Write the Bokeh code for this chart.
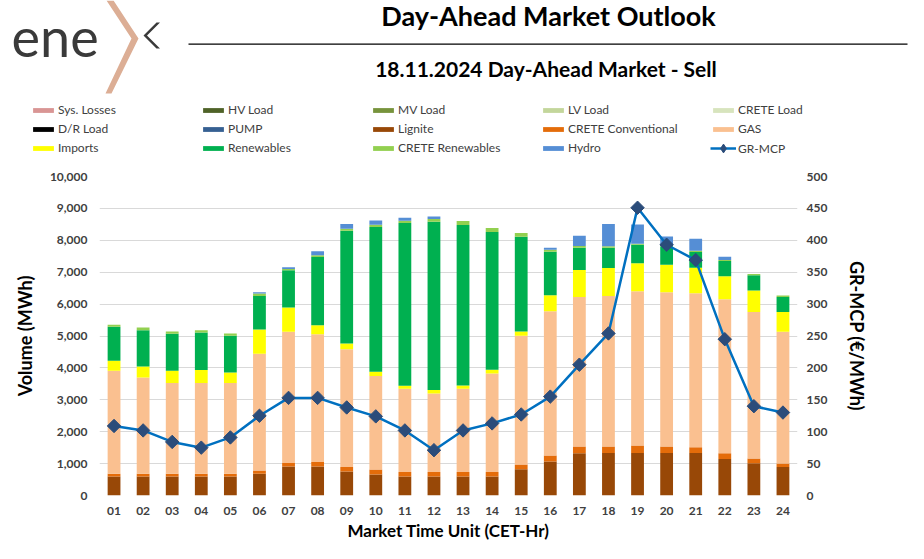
from bokeh.plotting import figure
from bokeh.models import (Range1d, LinearAxis, FactorRange, Legend, LegendItem, Label,
                          NumeralTickFormatter, FixedTicker, ColumnDataSource)
from bokeh.embed import file_html
from bokeh.resources import INLINE

# ---------------- data ----------------
hours = ["01", "02", "03", "04", "05", "06", "07", "08", "09", "10", "11", "12",
         "13", "14", "15", "16", "17", "18", "19", "20", "21", "22", "23", "24"]

sys_losses = [0, 0, 0, 0, 0, 0, 0, 0, 0, 0, 0, 0, 0, 0, 0, 0, 0, 0, 0, 0, 0, 0, 0, 0]
hv_load    = [0, 0, 0, 0, 0, 0, 0, 0, 0, 0, 0, 0, 0, 0, 0, 0, 0, 0, 0, 0, 0, 0, 0, 0]
mv_load    = [0, 0, 0, 0, 0, 0, 0, 0, 0, 0, 0, 0, 0, 0, 0, 0, 0, 0, 0, 0, 0, 0, 0, 0]
lv_load    = [0, 0, 0, 0, 0, 0, 0, 0, 0, 0, 0, 0, 0, 0, 0, 0, 0, 0, 0, 0, 0, 0, 0, 0]
crete_load = [0, 0, 0, 0, 0, 0, 0, 0, 0, 0, 0, 0, 0, 0, 0, 0, 0, 0, 0, 0, 0, 0, 0, 0]
dr_load    = [0, 0, 0, 0, 0, 0, 0, 0, 0, 0, 0, 0, 0, 0, 0, 0, 0, 0, 0, 0, 0, 0, 0, 0]
pump       = [0, 0, 0, 0, 0, 0, 0, 0, 0, 0, 0, 0, 0, 0, 0, 0, 0, 0, 0, 0, 0, 0, 0, 0]
lignite    = [594, 594, 594, 594, 594, 678, 907, 907, 751, 657, 594, 594,
              594, 594, 824, 1064, 1324, 1335, 1335, 1335, 1335, 1147, 1011, 897]
crete_conv = [84, 84, 84, 84, 84, 104, 115, 146, 146, 156, 146, 146,
              146, 146, 146, 187, 209, 198, 229, 198, 177, 177, 146, 104]
gas        = [3232, 3024, 2847, 2847, 2847, 3660, 4108, 4004, 3691, 2930, 2607, 2461,
              2607, 3087, 4035, 4526, 4692, 4723, 4838, 4838, 4828, 4828, 4599, 4129]
imports    = [313, 344, 385, 406, 333, 761, 762, 282, 177, 136, 94, 105,
              104, 115, 136, 500, 845, 876, 876, 866, 803, 720, 667, 626]
renewables = [1064, 1136, 1158, 1179, 1147, 1054, 1167, 2138, 3535, 4536, 5099, 5276,
              5027, 4317, 2972, 1366, 698, 636, 584, 573, 490, 480, 480, 469]
crete_ren  = [62, 84, 73, 72, 73, 73, 42, 52, 63, 73, 73, 83,
              125, 125, 114, 63, 53, 42, 32, 32, 42, 31, 42, 42]
hydro      = [0, 0, 0, 0, 0, 41, 52, 125, 146, 136, 94, 84,
              0, 0, 0, 62, 323, 699, 604, 281, 375, 104, 0, 0]
gr_mcp     = [109, 102, 84, 75, 91, 125, 153, 153, 138, 124, 102, 71,
              102, 113, 127, 155, 205, 254, 451, 393, 369, 245, 140, 130]

series_names = ["Sys. Losses", "HV Load", "MV Load", "LV Load", "CRETE Load",
                "D/R Load", "PUMP", "Lignite", "CRETE Conventional", "GAS",
                "Imports", "Renewables", "CRETE Renewables", "Hydro"]
series_values = [sys_losses, hv_load, mv_load, lv_load, crete_load, dr_load, pump,
                 lignite, crete_conv, gas, imports, renewables, crete_ren, hydro]
series_colors = ["#d99594", "#4f6228", "#77933c", "#c3d69b", "#d7e4bd",
                 "#000000", "#366092", "#984807", "#e46c0a", "#fac090",
                 "#ffff00", "#00b050", "#92d050", "#558ed5"]
mcp_name = "GR-MCP"
line_color = "#0070c0"
marker_color = "#2b4c7a"

vol_ticks = [0, 1000, 2000, 3000, 4000, 5000, 6000, 7000, 8000, 9000, 10000]
price_ticks = [0, 50, 100, 150, 200, 250, 300, 350, 400, 450, 500]

title_text = "Day-Ahead Market Outlook"
subtitle_text = "18.11.2024  Day-Ahead Market - Sell"

FONT = "Lato"
TXT = "#404040"
W, H_TOTAL, H_HEAD = 908, 543, 166

# ---------------- header (title, logo, legend) ----------------
head = figure(width=W, height=H_HEAD, x_range=Range1d(0, W), y_range=Range1d(H_HEAD, 0),
              output_backend="svg", toolbar_location=None, x_axis_type=None, y_axis_type=None,
              min_border=0, min_border_left=0, min_border_right=0, min_border_top=0,
              min_border_bottom=0)
head.outline_line_color = None
head.grid.visible = False

head.add_layout(Label(x=548, y=15, text=title_text, text_align="center", text_baseline="middle",
                      text_font=FONT, text_font_style="bold", text_font_size="27px",
                      text_color="#000000"))
head.add_layout(Label(x=548, y=68, text=subtitle_text, text_align="center",
                      text_baseline="middle", text_font=FONT, text_font_style="bold",
                      text_font_size="21px", text_color="#000000"))
head.line(x=[188, 907], y=[43.6, 43.6], line_color="#000000", line_width=1.3)

# logo
head.add_layout(Label(x=11, y=36, text="ene", text_align="left", text_baseline="alphabetic",
                      text_font=FONT, text_font_size="54px", text_color="#3a3a3a"))
head.patch(x=[106, 113, 138, 111, 105, 131], y=[0, 0, 38, 93, 93, 38],
           fill_color="#dcae95", line_color=None)
head.patch(x=[156, 159.5, 146.5, 159.5, 156, 143], y=[22, 22, 35, 48, 48, 35],
           fill_color="#3a3a3a", line_color=None)

# legend: sample glyphs (one point each, placed off-canvas) carry the series styles
OFF = -500
leg_items = []
for name, col in zip(series_names, series_colors):
    r = head.vbar(x=[OFF], top=[OFF], width=1, fill_color=col, line_color=None)
    leg_items.append(LegendItem(label=name, renderers=[r]))
lr = head.line(x=[OFF, OFF - 1], y=[OFF, OFF], line_color=line_color, line_width=2.5)
sr = head.scatter(x=[OFF], y=[OFF], marker="diamond", size=14,
                  fill_color=marker_color, line_color=marker_color)

leg_style = dict(padding=0, margin=0, spacing=0, glyph_width=26, label_standoff=2,
                 label_width=142, label_text_font=FONT, label_text_font_size="12px",
                 label_text_color=TXT, border_line_color=None, background_fill_alpha=0)
legend = Legend(items=leg_items, ncols=5, orientation="horizontal",
                location=(30, H_HEAD - 157.2), glyph_height=6, label_height=19, **leg_style)
head.add_layout(legend, "center")
legend2 = Legend(items=[LegendItem(label=mcp_name, renderers=[lr, sr])],
                 location=(710, H_HEAD - 159.3), glyph_height=22, label_height=22, **leg_style)
head.add_layout(legend2, "center")

# ---------------- main chart ----------------
keys = ["s%d" % i for i in range(len(series_names))]
data = {"hour": hours, "mcp": gr_mcp}
for k, v in zip(keys, series_values):
    data[k] = v
src = ColumnDataSource(data)

p = figure(width=W, height=H_TOTAL - H_HEAD, x_range=FactorRange(*hours),
           y_range=Range1d(0, 10000), output_backend="svg", toolbar_location=None,
           min_border_left=99, min_border_right=111, min_border_top=10, min_border_bottom=47)
p.outline_line_color = None
p.extra_y_ranges = {"price": Range1d(0, 500)}

p.vbar_stack(keys, x="hour", width=0.44, color=series_colors, line_color=None, source=src)
p.line(x="hour", y="mcp", y_range_name="price", line_color=line_color, line_width=2.5,
       source=src)
p.scatter(x="hour", y="mcp", y_range_name="price", marker="square", angle=0.7854,
          size=9.5, fill_color=marker_color, line_color=marker_color, source=src)

p.yaxis.ticker = FixedTicker(ticks=vol_ticks)
p.yaxis.formatter = NumeralTickFormatter(format="0,0")
p.yaxis.axis_label = "Volume (MWh)"
right = LinearAxis(y_range_name="price", ticker=FixedTicker(ticks=price_ticks),
                   axis_label="GR-MCP (€/MWh)")
p.add_layout(right, "right")
p.xaxis.axis_label = "Market Time Unit (CET-Hr)"

for ax in [p.xaxis[0], p.yaxis[0], right]:
    ax.axis_line_color = None
    ax.major_tick_line_color = None
    ax.minor_tick_line_color = None
    ax.major_tick_out = 0
    ax.major_tick_in = 0
    ax.minor_tick_out = 0
    ax.minor_tick_in = 0
    ax.major_label_text_font = FONT
    ax.major_label_text_font_style = "bold"
    ax.major_label_text_font_size = "12px"
    ax.major_label_text_color = TXT
    ax.axis_label_text_font = FONT
    ax.axis_label_text_font_style = "bold"
    ax.axis_label_text_font_size = "18px"
    ax.axis_label_text_color = "#000000"
p.yaxis[0].major_label_standoff = 12
p.yaxis[0].axis_label_standoff = 11
right.major_label_standoff = 9
right.axis_label_standoff = 16
p.xaxis[0].major_label_standoff = 11
p.xaxis[0].axis_label_standoff = 2
p.xaxis[0].axis_label_text_font_size = "17px"

p.xgrid.grid_line_color = None
p.ygrid.grid_line_color = "#d9d9d9"
p.ygrid.grid_line_width = 1.2
p.x_range.range_padding = 0

open("out.html", "w").write(file_html([head, p], INLINE))
